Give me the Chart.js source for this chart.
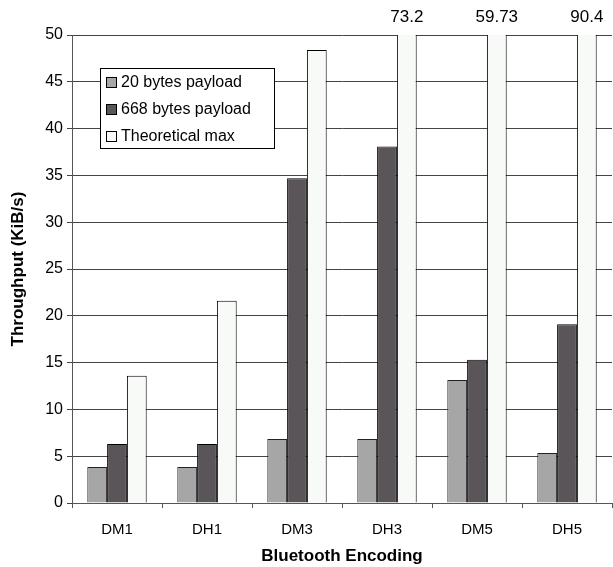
<!DOCTYPE html>
<html>
<head>
<meta charset="utf-8">
<script src="https://cdn.jsdelivr.net/npm/chart.js@4/dist/chart.umd.min.js"></script>
<style>
  html, body { margin: 0; padding: 0; background: #fff; }
  #wrap { width: 613px; height: 567px; position: relative; }
</style>
</head>
<body>
<div id="wrap"><canvas id="chartThroughput"></canvas></div>
<script>
// ── Data ─────────────────────────────────────────────
const encodings = ['DM1', 'DH1', 'DM3', 'DH3', 'DM5', 'DH5'];
const payload20 = [3.85, 3.85, 6.84, 6.84, 13.14, 5.34];
const payload668 = [6.3, 6.3, 34.7, 38.1, 15.3, 19.1];
const theoreticalMax = [13.6, 21.6, 48.4, 73.2, 59.73, 90.4];
const yTicks = [0, 5, 10, 15, 20, 25, 30, 35, 40, 45, 50];

const FONT = "'Liberation Sans', Arial, sans-serif";
Chart.defaults.font.family = FONT;
Chart.defaults.color = '#000';

// labels for bars that run past the top of the axis
const overflowLabels = {
  id: 'overflowLabels',
  afterDatasetsDraw(chart) {
    const { ctx, scales: { y } } = chart;
    chart.data.datasets.forEach((ds, di) => {
      const meta = chart.getDatasetMeta(di);
      ds.data.forEach((v, i) => {
        if (v <= y.max) return;
        const bar = meta.data[i];
        ctx.save();
        ctx.font = '17px ' + FONT;
        ctx.fillStyle = '#000';
        ctx.textAlign = 'center';
        ctx.textBaseline = 'middle';
        ctx.fillText(String(v), bar.x, y.top - 18);
        ctx.restore();
      });
    });
  }
};

// boxed legend sitting inside the plot area
const boxLegend = {
  id: 'boxLegend',
  afterDraw(chart, args, opts) {
    const { ctx } = chart;
    const { x, y, w, h, rowH } = opts;
    ctx.save();
    ctx.fillStyle = '#fff';
    ctx.fillRect(x, y, w, h);
    ctx.strokeStyle = '#000';
    ctx.lineWidth = 1;
    ctx.strokeRect(x + 0.5, y + 0.5, w, h);
    ctx.font = '16px ' + FONT;
    ctx.textBaseline = 'middle';
    chart.data.datasets.forEach((ds, i) => {
      const cy = y + 14 + i * rowH;
      ctx.fillStyle = ds.backgroundColor;
      ctx.fillRect(x + 6, cy - 5, 11, 11);
      ctx.strokeStyle = '#000';
      ctx.strokeRect(x + 6.5, cy - 4.5, 10, 10);
      ctx.fillStyle = '#000';
      ctx.fillText(ds.label, x + 21, cy + 1);
    });
    ctx.restore();
  }
};

new Chart(document.getElementById('chartThroughput'), {
  type: 'bar',
  data: {
    labels: encodings,
    datasets: [
      { label: '20 bytes payload', data: payload20, backgroundColor: '#A6A6A6', borderColor: '#222', borderWidth: 1 },
      { label: '668 bytes payload', data: payload668, backgroundColor: '#5A5559', borderColor: '#000', borderWidth: 1 },
      { label: 'Theoretical max', data: theoreticalMax, backgroundColor: '#F8FAF7', borderColor: '#000', borderWidth: 1 },
    ]
  },
  options: {
    responsive: true, maintainAspectRatio: false,
    animation: false,
    layout: { padding: { top: 35, right: 1, left: 0, bottom: 0 } },
    datasets: { bar: { categoryPercentage: 0.66, barPercentage: 1.0 } },
    plugins: {
      legend: { display: false },
      tooltip: { enabled: false },
      boxLegend: { x: 100, y: 68, w: 174, h: 80, rowH: 27 },
    },
    scales: {
      x: {
        grid: { offset: true, drawOnChartArea: false, drawTicks: true, tickLength: 5, color: '#555' },
        border: { color: '#555' },
        ticks: { font: { size: 15 }, padding: 13, color: '#000' },
        title: { display: true, text: 'Bluetooth Encoding', font: { size: 17, weight: 'bold' }, padding: { top: 0, bottom: 0 } },
        afterFit: s => { s.height = 64; }
      },
      y: {
        min: 0, max: 50,
        afterBuildTicks: s => { s.ticks = yTicks.map(v => ({ value: v })); },
        grid: { color: '#444', tickLength: 5 },
        border: { color: '#555' },
        ticks: { font: { size: 16 }, padding: 4, color: '#000' },
        title: { display: true, text: 'Throughput (KiB/s)', font: { size: 17, weight: 'bold' }, padding: { top: 8, bottom: 0 } },
        afterFit: s => { s.width = 72; }
      }
    }
  },
  plugins: [overflowLabels, boxLegend]
});
</script>
</body>
</html>
